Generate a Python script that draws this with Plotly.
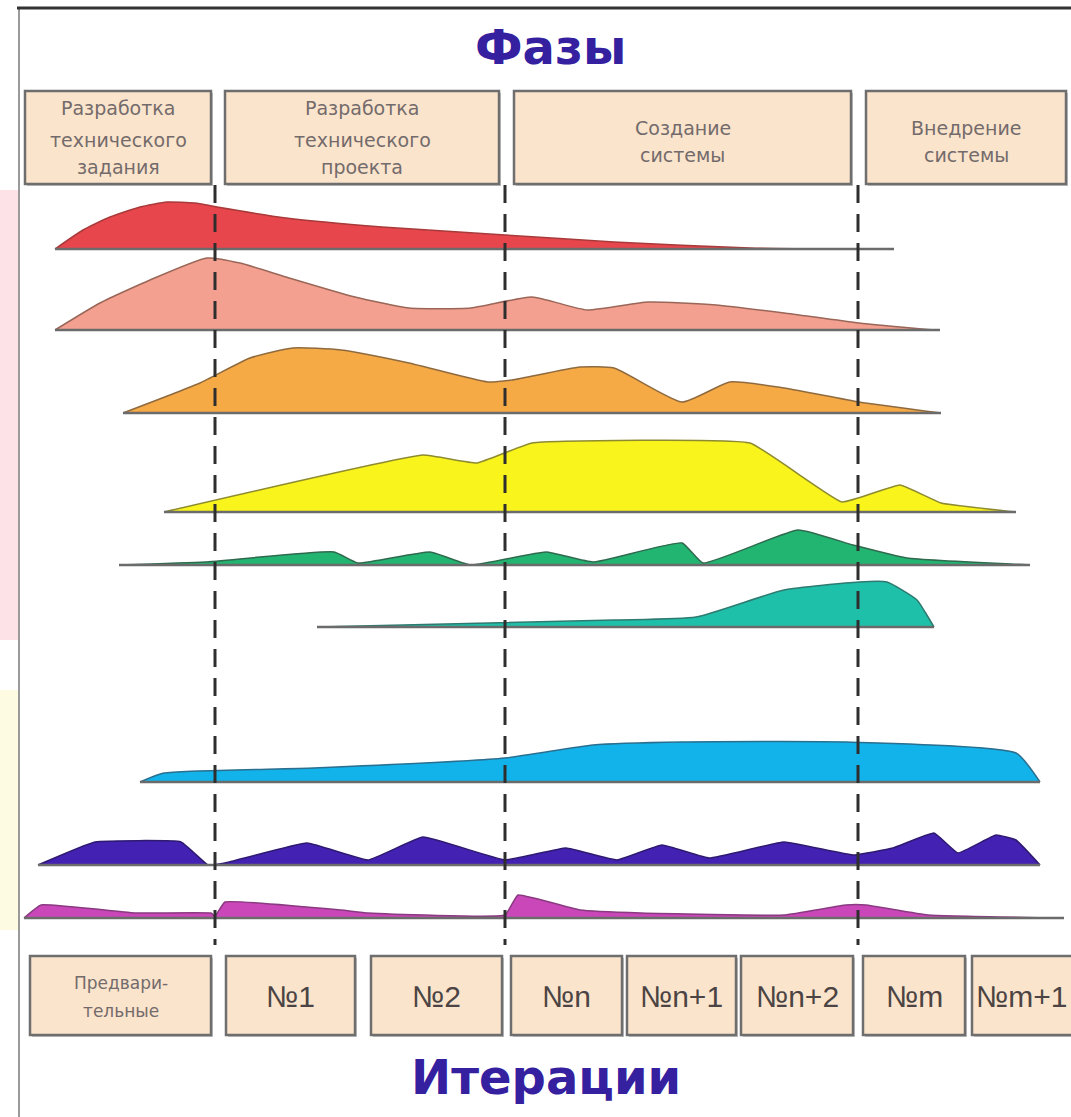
import plotly.graph_objects as go

# ---------------- data ----------------
phase_labels = [
    ["Разработка", "технического", "задания"],
    ["Разработка", "технического", "проекта"],
    ["Создание", "системы"],
    ["Внедрение", "системы"],
]
iteration_labels = [
    ["Предвари-", "тельные"], ["№1"], ["№2"], ["№n"],
    ["№n+1"], ["№n+2"], ["№m"], ["№m+1"],
]
title_top = "Фазы"
title_bottom = "Итерации"

# hump profiles: time positions and activity heights
red_x = [55, 83, 110, 140, 167, 195, 217, 286, 382, 505, 614, 750, 819]
red_h = [0, 19, 32, 42, 47, 46, 42, 31, 22, 14, 7, 1, 0]

salmon_x = [55, 100, 150, 207, 240, 286, 355, 409, 471, 532, 587, 648, 716, 784, 859, 934]
salmon_h = [0, 27, 50, 72, 67, 53, 33, 22, 22, 33, 20, 28, 25, 17, 7, 0]

orange_x = [123, 200, 250, 293, 341, 409, 488, 512, 580, 614, 682, 730, 784, 859, 941]
orange_h = [0, 30, 55, 65, 63, 50, 31, 33, 46, 45, 11, 31, 25, 11, 0]

yellow_x = [164, 423, 477, 532, 750, 842, 900, 941, 1016]
yellow_h = [0, 57, 49, 69, 69, 10, 27, 9, 0]

green_x = [119, 205, 334, 358, 430, 471, 546, 593, 682, 703, 798, 853, 907, 1030]
green_h = [0, 3, 13, 2, 13, 0, 13, 3, 22, 2, 35, 20, 7, 0]

teal_x = [317, 614, 696, 784, 859, 887, 917, 925, 934]
teal_h = [0, 7, 10, 37, 45, 45, 27, 15, 0]

blue_x = [140, 164, 314, 505, 593, 682, 846, 1016, 1040]
blue_h = [0, 9, 14, 24, 37, 40, 40, 29, 0]

indigo_x = [38, 95, 181, 208, 225, 307, 368, 423, 505, 566, 617, 662, 709, 784,
            853, 893, 934, 958, 996, 1016, 1040]
indigo_h = [0, 23, 23, 0, 2, 22, 5, 28, 5, 17, 5, 20, 7, 23, 10, 17, 32, 12, 30, 25, 0]

magenta_x = [24, 41, 136, 211, 215, 225, 341, 368, 505, 518, 580, 641, 784, 846,
             866, 928, 1064]
magenta_h = [0, 13, 5, 5, 2, 16, 8, 5, 3, 23, 8, 5, 3, 13, 13, 3, 0]

# ---------------- layout / style ----------------
W, H = 1071, 1117
humps = [
    # x, h, baseline, baseline_end, fill, edge, smoothing
    (red_x, red_h, 249, 894, "#e8464d", "#a83a3a", 0.5),
    (salmon_x, salmon_h, 330, 940, "#f4a090", "#9a6658", 0.5),
    (orange_x, orange_h, 413, 941, "#f6aa46", "#8f6a3e", 0.5),
    (yellow_x, yellow_h, 512, 1016, "#f8f41c", "#8d8a30", 0.3),
    (green_x, green_h, 565, 1030, "#22b571", "#2f6a4f", 0.4),
    (teal_x, teal_h, 627, 934, "#1fc0aa", "#2f7a70", 0.5),
    (blue_x, blue_h, 782, 1040, "#12b3ea", "#2a6f8f", 0.5),
    (indigo_x, indigo_h, 865, 1040, "#4321b3", "#2e1a70", 0.3),
    (magenta_x, magenta_h, 918, 1064, "#c947b9", "#8a3a80", 0.3),
]
phase_boxes = [(25, 211), (225, 499), (514, 851), (866, 1066)]
phase_box_y = (91, 184)
phase_line_y = {2: [128, 155], 3: [108, 140, 167]}
iter_boxes = [(30, 211), (226, 355), (371, 502), (511, 622), (627, 736),
              (741, 853), (863, 965), (972, 1080)]
iter_box_y = (956, 1035)
phase_bounds = [215, 505, 858]
box_fill = "#fbe4cc"
box_edge = "#6e6e6e"
title_color = "#3520a0"

fig = go.Figure()

# side tints and frame
fig.add_shape(type="rect", x0=0, x1=18, y0=190, y1=640, fillcolor="#fde3e7", line_width=0, layer="below")
fig.add_shape(type="rect", x0=0, x1=18, y0=690, y1=930, fillcolor="#fdfbe2", line_width=0, layer="below")
fig.add_shape(type="line", x0=19, x1=19, y0=8, y1=H, line=dict(color="#9a9a9a", width=2))
fig.add_shape(type="line", x0=17, x1=W, y0=8, y1=8, line=dict(color="#333333", width=3))

# humps
for xs, hs, base, bend, fill, edge, sm in humps:
    ys = [base - h for h in hs]
    fig.add_trace(go.Scatter(
        x=xs, y=ys, mode="lines", fill="toself", fillcolor=fill,
        line=dict(color=edge, width=1.5, shape="spline", smoothing=sm),
        hoverinfo="skip", showlegend=False))
    fig.add_trace(go.Scatter(
        x=[xs[0], bend], y=[base, base], mode="lines",
        line=dict(color="#6b6b6b", width=2.5),
        hoverinfo="skip", showlegend=False))

# dashed phase boundaries
for xb in phase_bounds:
    fig.add_shape(type="line", x0=xb, x1=xb, y0=185, y1=945,
                  line=dict(color="#2e2e2e", width=3, dash="18px,11px"))

# phase boxes
for (x0, x1), lines in zip(phase_boxes, phase_labels):
    fig.add_shape(type="rect", x0=x0 + 2, x1=x1 + 2, y0=phase_box_y[0] + 2, y1=phase_box_y[1] + 2,
                  fillcolor="#c4c4c4", line_width=0)
    fig.add_shape(type="rect", x0=x0, x1=x1, y0=phase_box_y[0], y1=phase_box_y[1],
                  fillcolor=box_fill, line=dict(color=box_edge, width=2.5))
    for txt, yy in zip(lines, phase_line_y[len(lines)]):
        fig.add_annotation(x=(x0 + x1) / 2, y=yy, text=txt, showarrow=False,
                           font=dict(family="DejaVu Sans", size=19, color="#736b6b"))

# iteration boxes
for (x0, x1), lines in zip(iter_boxes, iteration_labels):
    fig.add_shape(type="rect", x0=x0 + 2, x1=x1 + 2, y0=iter_box_y[0] + 2, y1=iter_box_y[1] + 2,
                  fillcolor="#c4c4c4", line_width=0)
    fig.add_shape(type="rect", x0=x0, x1=x1, y0=iter_box_y[0], y1=iter_box_y[1],
                  fillcolor=box_fill, line=dict(color=box_edge, width=2.5))
    cx = (x0 + min(x1, W)) / 2
    if len(lines) == 1:
        fig.add_annotation(x=cx, y=996, text=lines[0], showarrow=False,
                           font=dict(family="Liberation Sans", size=30, color="#4c4444"))
    else:
        for txt, yy in zip(lines, [983, 1011]):
            fig.add_annotation(x=cx, y=yy, text=txt, showarrow=False,
                               font=dict(family="DejaVu Sans", size=17, color="#736b6b"))

# titles
fig.add_annotation(x=550, y=47, text="<b>" + title_top + "</b>", showarrow=False,
                   font=dict(family="DejaVu Sans", size=48, color=title_color))
fig.add_annotation(x=546, y=1077, text="<b>" + title_bottom + "</b>", showarrow=False,
                   font=dict(family="DejaVu Sans", size=48, color=title_color))

fig.update_layout(
    width=W, height=H, margin=dict(l=0, r=0, t=0, b=0),
    paper_bgcolor="white", plot_bgcolor="white", showlegend=False,
    xaxis=dict(range=[0, W], visible=False, fixedrange=True),
    yaxis=dict(range=[H, 0], visible=False, fixedrange=True),
)
fig.write_html(
    "out.html",
    config={"displayModeBar": False},
    post_script="document.body.style.margin='0';document.body.style.overflow='hidden';",
)
